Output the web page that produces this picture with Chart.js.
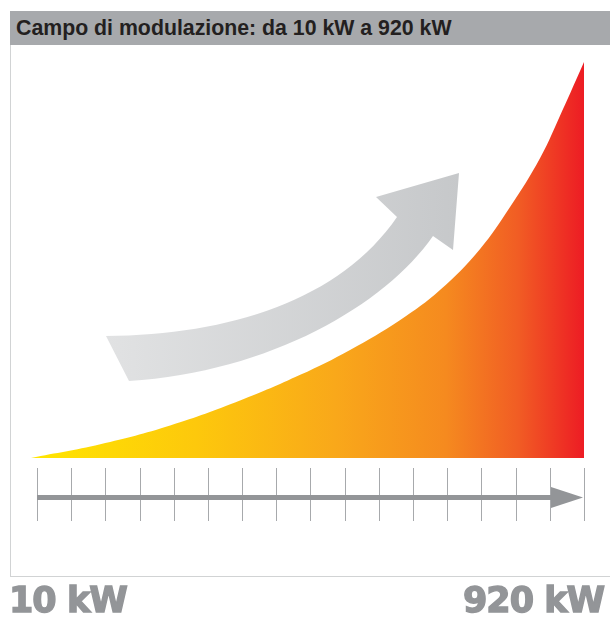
<!DOCTYPE html>
<html>
<head>
<meta charset="utf-8">
<script src="https://cdn.jsdelivr.net/npm/chart.js@4"></script>
<style>
  body { margin: 0; background: #fff; }
  #wrap { position: relative; width: 610px; height: 621px; overflow: hidden; }
  #box { position: absolute; left: 10px; top: 11px; width: 620px; height: 566px; border: 1px solid #d1d3d4; box-sizing: border-box; }
  #head { position: absolute; left: 10px; top: 11px; width: 600px; height: 34px; background: #a7a9ac;
          font: bold 21.3px "Liberation Sans", Arial, sans-serif; color: #231f20; line-height: 34px; padding-left: 6px; box-sizing: border-box; white-space: nowrap; }
  .kw { position: absolute; top: 580px; font: bold 35px "DejaVu Sans", sans-serif; color: #939598; line-height: 40px; white-space: nowrap;
        letter-spacing: -1px; -webkit-text-stroke: 1.4px #939598; }
  canvas { position: absolute; left: 0; top: 0; }
</style>
</head>
<body>
<div id="wrap">
  <div id="box"></div>
  <div id="head">Campo di modulazione: da 10 kW a 920 kW</div>
  <canvas id="myChart" width="610" height="621"></canvas>
  <div class="kw" style="left:9px">10 kW</div>
  <div class="kw" style="left:463px">920 kW</div>
</div>
<script>
// modulation range, kW along x, relative output (0-100) along y
const power = [10, 124, 239, 354, 453, 535, 617, 683, 749, 798, 848, 884, 920];
const output = [0, 3.45, 8.2, 14.5, 21, 27.3, 34.8, 42.4, 52.8, 63.3, 75.8, 87.6, 100];
// ruler divisions under the curve
const rulerTicks = [0, 1, 2, 3, 4, 5, 6, 7, 8, 9, 10, 11, 12, 13, 14, 15, 16];

const points = power.map((p, i) => ({ x: p, y: output[i] }));

function areaGradient(context) {
  const chart = context.chart;
  const area = chart.chartArea;
  if (!area) return '#f7941d';
  const g = chart.ctx.createLinearGradient(area.left, 0, area.right, 0);
  g.addColorStop(0, '#ffe600');
  g.addColorStop(0.3, '#fdc80c');
  g.addColorStop(0.55, '#f9a81a');
  g.addColorStop(0.75, '#f58a1f');
  g.addColorStop(0.88, '#f15d24');
  g.addColorStop(1, '#ed1c24');
  return g;
}

// grey curved arrow + ruler below the curve
const decor = {
  id: 'decor',
  beforeDatasetsDraw(chart) {
    const ctx = chart.ctx;
    ctx.save();
    const g = ctx.createLinearGradient(106, 0, 460, 0);
    g.addColorStop(0, '#e1e2e3');
    g.addColorStop(1, '#c6c8ca');
    ctx.fillStyle = g;
    ctx.beginPath();
    ctx.moveTo(106, 336);
    ctx.bezierCurveTo(230, 335, 340, 300, 397, 217);
    ctx.lineTo(376, 197);
    ctx.lineTo(459, 173);
    ctx.lineTo(453, 250);
    ctx.lineTo(433, 236);
    ctx.bezierCurveTo(385, 305, 270, 372, 129, 381);
    ctx.closePath();
    ctx.fill();
    ctx.restore();
  },
  afterDatasetsDraw(chart) {
    const ctx = chart.ctx;
    const scale = chart.scales.ruler;
    const base = chart.chartArea.bottom;
    ctx.save();
    ctx.strokeStyle = '#a7a9ac';
    ctx.lineWidth = 1;
    rulerTicks.forEach(v => {
      const px = Math.round(scale.getPixelForValue(v)) + 0.5;
      ctx.beginPath();
      ctx.moveTo(px, base + 10);
      ctx.lineTo(px, base + 63);
      ctx.stroke();
    });
    const x0 = scale.getPixelForValue(rulerTicks[0]);
    const x1 = scale.getPixelForValue(rulerTicks[rulerTicks.length - 1]);
    const y = base + 39.5;
    ctx.strokeStyle = '#939598';
    ctx.lineWidth = 5;
    ctx.beginPath();
    ctx.moveTo(x0, y);
    ctx.lineTo(x1 - 30, y);
    ctx.stroke();
    ctx.fillStyle = '#939598';
    ctx.beginPath();
    ctx.moveTo(x1 - 33, y - 10.5);
    ctx.lineTo(x1 - 1, y);
    ctx.lineTo(x1 - 33, y + 10.5);
    ctx.closePath();
    ctx.fill();
    ctx.restore();
  }
};

const chart = new Chart('myChart', {
  type: 'line',
  data: {
    datasets: [{
      label: 'Potenza',
      data: points,
      fill: 'origin',
      backgroundColor: areaGradient,
      borderWidth: 0,
      pointRadius: 0,
      tension: 0.4
    }]
  },
  options: {
    responsive: false,
    animation: false,
    layout: { padding: { left: 31, right: 26, top: 62, bottom: 163 } },
    scales: {
      x: { type: 'linear', min: 10, max: 920, display: false },
      y: { min: 0, max: 100, display: false },
      ruler: { type: 'linear', axis: 'x', position: 'bottom', min: -0.175, max: 16, display: false }
    },
    plugins: {
      legend: { display: false },
      tooltip: { enabled: false },
      title: { display: false }
    }
  },
  plugins: [decor]
});
</script>
</body>
</html>
